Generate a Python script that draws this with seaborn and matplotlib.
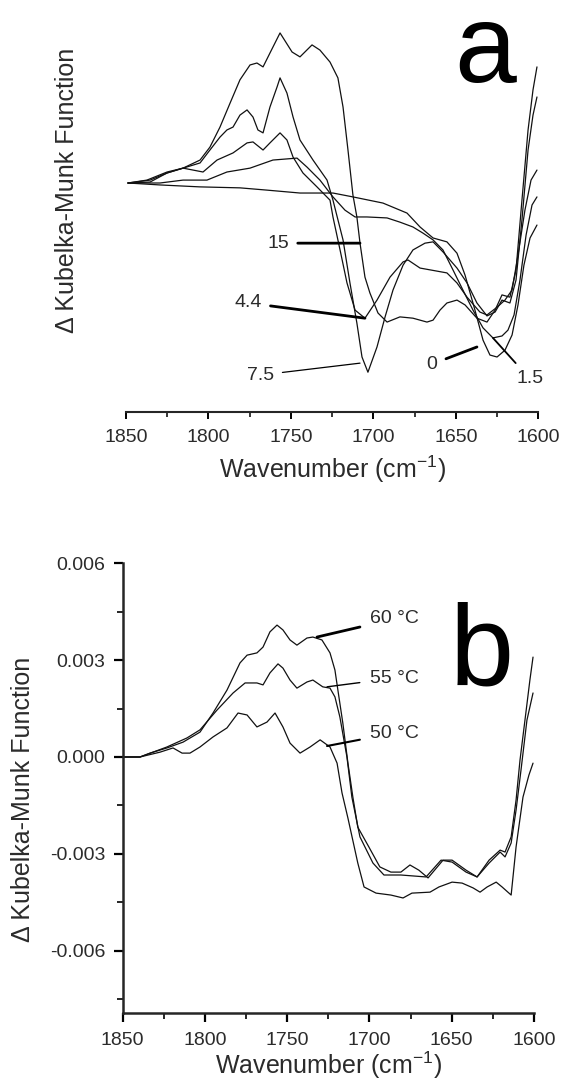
import numpy as np
import pandas as pd
import matplotlib
matplotlib.use("Agg")
import matplotlib.pyplot as plt
import seaborn as sns
from matplotlib.ticker import MultipleLocator, FixedLocator, FuncFormatter

# ---------------- data (panel a: arbitrary, same units x1e-3) ----------------
a_wn_15 = [1848.8, 1837.3, 1825.1, 1815.4, 1805.1, 1799.1, 1793.0, 1786.9, 1780.9, 1774.8,
           1770.6, 1766.9, 1762.7, 1756.6, 1749.3, 1744.5, 1737.2, 1732.4, 1726.3, 1721.5,
           1718.4, 1715.4, 1712.4, 1710.0, 1708.1, 1705.1, 1702.1, 1697.2, 1691.7, 1683.9,
           1676.0, 1667.5, 1663.8, 1659.6, 1655.4, 1649.3, 1644.4, 1637.2, 1631.1, 1626.2,
           1622.0, 1617.2, 1613.5, 1609.9, 1606.2, 1603.2, 1600.8]
a_km_15 = [0.00, 0.09, 0.34, 0.46, 0.71, 1.11, 1.73, 2.47, 3.19, 3.65,
           3.71, 3.59, 4.02, 4.64, 4.05, 3.90, 4.27, 4.11, 3.74, 3.25,
           2.35, 1.02, -0.37, -1.05, -1.86, -2.91, -3.40, -4.02, -4.30, -4.14,
           -4.18, -4.30, -4.24, -3.93, -3.71, -3.62, -3.77, -4.18, -4.30, -3.93,
           -3.46, -3.53, -2.69, -0.53, 1.64, 2.88, 3.59]

a_wn_7_5 = [1848.8, 1835.4, 1825.1, 1815.4, 1805.1, 1799.1, 1793.0, 1788.8, 1785.1, 1780.9,
            1776.6, 1773.0, 1770.0, 1766.9, 1762.7, 1758.4, 1756.6, 1752.4, 1748.7, 1744.5,
            1736.6, 1728.1, 1724.5, 1718.4, 1714.2, 1710.0, 1706.9, 1703.3, 1697.8, 1692.9,
            1688.1, 1682.0, 1676.0, 1668.7, 1663.8, 1657.8, 1649.3, 1643.2, 1637.2, 1631.1,
            1626.2, 1622.0, 1617.2, 1613.5, 1609.9, 1606.2, 1603.2, 1600.8]
a_km_7_5 = [0.00, 0.09, 0.31, 0.46, 0.62, 1.02, 1.42, 1.64, 1.73, 2.10,
            2.26, 2.04, 1.64, 1.55, 2.35, 2.97, 3.25, 2.78, 2.04, 1.33,
            0.71, 0.09, -0.53, -1.76, -3.09, -4.33, -5.38, -5.85, -5.07, -4.14,
            -3.31, -2.54, -2.07, -1.86, -1.82, -2.13, -2.63, -3.09, -3.71, -4.11,
            -3.99, -3.62, -3.71, -3.00, -1.14, 1.02, 2.10, 2.66]

a_wn_4_4 = [1848.8, 1835.4, 1825.1, 1815.4, 1803.3, 1794.8, 1785.1, 1776.6, 1773.0, 1766.9,
            1762.7, 1756.6, 1752.4, 1748.7, 1742.7, 1734.2, 1726.3, 1724.5, 1720.2, 1716.0,
            1711.1, 1705.1, 1697.8, 1689.9, 1682.0, 1679.0, 1671.7, 1655.4, 1649.3, 1643.2,
            1635.4, 1631.1, 1625.0, 1620.2, 1615.9, 1612.3, 1608.1, 1604.4, 1600.8]
a_km_4_4 = [0.00, 0.03, 0.31, 0.46, 0.34, 0.71, 0.93, 1.24, 1.27, 1.02,
            1.24, 1.55, 1.33, 0.80, 0.31, -0.12, -0.53, -1.05, -2.07, -3.09,
            -3.93, -4.18, -3.62, -2.91, -2.44, -2.38, -2.63, -2.78, -3.09, -3.53,
            -3.99, -4.08, -3.84, -3.62, -3.31, -2.23, -0.84, 0.09, 0.40]

a_wn_1_5 = [1848.8, 1829.4, 1815.4, 1800.9, 1788.8, 1774.8, 1760.9, 1746.3, 1740.2, 1732.4,
            1724.5, 1717.2, 1711.1, 1703.9, 1691.7, 1683.9, 1676.0, 1669.9, 1663.8, 1657.8,
            1651.7, 1645.7, 1639.6, 1633.5, 1627.5, 1622.0, 1618.4, 1614.7, 1611.1, 1607.4,
            1603.8, 1600.8]
a_km_1_5 = [0.00, 0.00, 0.09, 0.09, 0.34, 0.46, 0.71, 0.77, 0.49, 0.09,
            -0.43, -0.84, -1.05, -1.05, -1.08, -1.21, -1.36, -1.55, -1.76, -2.07,
            -2.69, -3.31, -3.93, -4.48, -4.79, -4.73, -4.55, -4.08, -3.00, -1.61,
            -0.68, -0.43]

a_wn_0 = [1848.8, 1829.4, 1805.1, 1780.9, 1764.5, 1744.5, 1724.5, 1712.4, 1694.2, 1679.6,
          1671.7, 1663.8, 1655.4, 1649.3, 1644.4, 1638.4, 1633.5, 1629.3, 1625.0, 1620.2,
          1615.9, 1612.3, 1608.7, 1605.0, 1600.8]
a_km_0 = [0.00, -0.06, -0.12, -0.15, -0.22, -0.31, -0.31, -0.43, -0.62, -0.93,
          -1.36, -1.70, -1.82, -2.17, -2.85, -3.93, -4.86, -5.32, -5.38, -5.17,
          -4.70, -3.77, -2.54, -1.70, -1.30]

a_labels = ["15", "4.4", "7.5", "0", "1.5"]

# ---------------- data (panel b, x1e-3) ----------------
b_wn_60 = [1849.8, 1839.5, 1833.4, 1823.1, 1813.3, 1803.0, 1795.1, 1786.6, 1778.7, 1774.4,
           1768.4, 1764.7, 1760.5, 1756.2, 1752.6, 1748.3, 1744.1, 1738.0, 1734.4, 1728.9,
           1724.0, 1721.0, 1719.2, 1716.2, 1713.1, 1710.1, 1707.1, 1700.4, 1693.7, 1687.0,
           1680.9, 1675.4, 1670.0, 1664.4, 1655.3, 1649.8, 1641.3, 1634.6, 1627.3, 1620.6,
           1617.6, 1613.9, 1610.9, 1608.5, 1605.5, 1602.5, 1600.6]
b_km_60 = [0.00, 0.00, 0.12, 0.28, 0.46, 0.77, 1.36, 2.07, 2.91, 3.15,
           3.22, 3.40, 3.87, 4.08, 3.93, 3.62, 3.46, 3.68, 3.71, 3.62,
           3.22, 2.69, 2.07, 1.05, -0.19, -1.24, -2.17, -2.78, -3.40, -3.56,
           -3.56, -3.34, -3.50, -3.74, -3.19, -3.19, -3.50, -3.71, -3.19, -2.88,
           -2.94, -2.47, -1.33, -0.09, 1.14, 2.38, 3.09]

b_wn_55 = [1849.8, 1839.5, 1823.1, 1810.9, 1803.0, 1792.7, 1782.9, 1775.6, 1768.4, 1764.7,
           1760.5, 1755.6, 1752.6, 1748.3, 1744.1, 1738.0, 1734.4, 1728.4, 1724.0, 1721.0,
           1718.0, 1713.7, 1710.7, 1705.8, 1697.9, 1691.2, 1680.9, 1665.6, 1656.5, 1649.8,
           1641.3, 1634.6, 1627.3, 1620.6, 1617.6, 1613.9, 1610.9, 1607.9, 1604.3, 1600.6]
b_km_55 = [0.00, 0.00, 0.31, 0.59, 0.84, 1.45, 1.98, 2.29, 2.29, 2.23,
           2.60, 2.88, 2.75, 2.38, 2.13, 2.32, 2.38, 2.17, 2.13, 1.86,
           1.24, 0.00, -1.24, -2.47, -3.28, -3.65, -3.65, -3.71, -3.19, -3.25,
           -3.56, -3.71, -3.28, -2.94, -3.09, -2.66, -1.64, -0.40, 1.14, 1.98]

b_wn_50 = [1849.8, 1839.5, 1827.3, 1819.4, 1813.9, 1809.1, 1803.0, 1795.1, 1786.6, 1779.9,
           1774.4, 1768.4, 1762.3, 1757.4, 1752.6, 1748.3, 1742.2, 1736.1, 1730.0, 1724.0,
           1719.7, 1716.7, 1713.1, 1707.1, 1703.3, 1696.0, 1687.0, 1679.6, 1674.2, 1663.2,
           1657.8, 1649.8, 1643.7, 1637.0, 1632.8, 1628.5, 1623.0, 1619.4, 1613.9, 1610.9,
           1606.7, 1603.1, 1600.6]
b_km_50 = [0.00, 0.00, 0.15, 0.28, 0.12, 0.12, 0.31, 0.62, 0.90, 1.36,
           1.30, 0.93, 1.08, 1.36, 0.93, 0.43, 0.12, 0.31, 0.53, 0.31,
           -0.19, -1.11, -1.89, -3.28, -4.02, -4.21, -4.27, -4.36, -4.21, -4.18,
           -4.02, -3.87, -3.90, -4.05, -4.18, -4.02, -3.87, -4.02, -4.27, -2.78,
           -1.24, -0.56, -0.19]

b_labels = ["60 °C", "55 °C", "50 °C"]
b_yticks = [-0.006, -0.003, 0.0, 0.003, 0.006]
b_yminor = [-0.0075, -0.0045, -0.0015, 0.0015, 0.0045]
x_ticks = [1850, 1800, 1750, 1700, 1650, 1600]

# ---------------- style ----------------
sns.set_style("ticks")
plt.rcParams["font.family"] = ["Liberation Sans", "DejaVu Sans"]
plt.rcParams["mathtext.fontset"] = "custom"
plt.rcParams["mathtext.rm"] = "Liberation Sans"
plt.rcParams["mathtext.it"] = "Liberation Sans:italic"
plt.rcParams["axes.unicode_minus"] = False
TXT = "#2b2b2b"
LINE = "#111111"

fig = plt.figure(figsize=(5.62, 10.85), dpi=100)
ax_a = fig.add_axes([0.2242, 0.6200, 0.7336, 0.3708])
ax_b = fig.add_axes([0.2183, 0.0660, 0.7319, 0.4151])

# ---------------- panel a ----------------
for wn, km in [(a_wn_15, a_km_15), (a_wn_7_5, a_km_7_5), (a_wn_4_4, a_km_4_4),
               (a_wn_1_5, a_km_1_5), (a_wn_0, a_km_0)]:
    sns.lineplot(x=np.array(wn), y=np.array(km) * 1e-3, ax=ax_a, color=LINE,
                 linewidth=0.9, estimator=None, sort=False)

ax_a.set_xlim(1850, 1600)
ax_a.set_ylim(-7.09e-3, 5.35e-3)
for s in ["left", "top", "right"]:
    ax_a.spines[s].set_visible(False)
ax_a.spines["bottom"].set_linewidth(1.5)
ax_a.set_yticks([])
ax_a.xaxis.set_major_locator(FixedLocator(x_ticks))
ax_a.xaxis.set_minor_locator(MultipleLocator(25))
ax_a.tick_params(axis="x", which="major", direction="out", length=4.8, width=1.4,
                 labelsize=14, labelcolor=TXT, pad=7, color="k")
ax_a.tick_params(axis="x", which="minor", direction="out", length=3.3, width=1.1, color="k")
ax_a.set_xlabel(r"Wavenumber (cm$^{-1}$)", fontsize=18, color=TXT, labelpad=6)
ax_a.set_ylabel("Δ Kubelka-Munk Function", fontsize=18, color=TXT)
ax_a.yaxis.set_label_coords(-0.115, 0.5526)

ann_a = [
    # label, text pos (wn, km), target (wn, km), lw
    (a_labels[0], (1757.8, -1.86), (1708.1, -1.86), 2.0),
    (a_labels[1], (1776.0, -3.71), (1705.1, -4.18), 2.0),
    (a_labels[2], (1768.7, -5.94), (1708.1, -5.57), 0.9),
    (a_labels[3], (1664.4, -5.60), (1637.2, -5.07), 2.0),
    (a_labels[4], (1605.0, -6.06), (1627.5, -4.79), 1.3),
]
for lab, (tx, ty), (px, py), lw in ann_a:
    ax_a.annotate(lab, xy=(px, py * 1e-3), xytext=(tx, ty * 1e-3), fontsize=14,
                  color=TXT, ha="center", va="center",
                  arrowprops=dict(arrowstyle="-", lw=lw, color="k", shrinkA=4, shrinkB=0))

fig.text(454 / 562, 1 - 82 / 1085, "a", fontsize=80, ha="left", va="baseline", color="k")

# ---------------- panel b ----------------
for wn, km in [(b_wn_60, b_km_60), (b_wn_55, b_km_55), (b_wn_50, b_km_50)]:
    sns.lineplot(x=np.array(wn), y=np.array(km) * 1e-3, ax=ax_b, color=LINE,
                 linewidth=0.9, estimator=None, sort=False)

ax_b.set_xlim(1850, 1600)
ax_b.set_ylim(-0.00793, 0.006)
for s in ["top", "right"]:
    ax_b.spines[s].set_visible(False)
for s in ["left", "bottom"]:
    ax_b.spines[s].set_linewidth(1.8)
ax_b.xaxis.set_major_locator(FixedLocator(x_ticks))
ax_b.xaxis.set_minor_locator(MultipleLocator(25))
ax_b.yaxis.set_major_locator(FixedLocator(b_yticks))
ax_b.yaxis.set_minor_locator(FixedLocator(b_yminor))
ax_b.yaxis.set_major_formatter(FuncFormatter(lambda v, p: f"{(v if abs(v) > 1e-12 else 0.0):.3f}"))
ax_b.tick_params(which="major", direction="out", length=6.5, width=1.6,
                 labelsize=14, labelcolor=TXT, pad=6, color="k")
ax_b.tick_params(axis="x", which="major", pad=7)
ax_b.tick_params(which="minor", direction="out", length=4.3, width=1.2, color="k")
ax_b.set_xlabel(r"Wavenumber (cm$^{-1}$)", fontsize=18, color=TXT, labelpad=0)
ax_b.set_ylabel("Δ Kubelka-Munk Function", fontsize=18, color=TXT)
ax_b.yaxis.set_label_coords(-0.212, 0.476)

ann_b = [
    (b_labels[0], (1699.7, 4.27), (1731.9, 3.71), 2.0),
    (b_labels[1], (1699.7, 2.44), (1725.8, 2.17), 1.0),
    (b_labels[2], (1699.7, 0.74), (1725.8, 0.34), 1.5),
]
for lab, (tx, ty), (px, py), lw in ann_b:
    ax_b.annotate(lab, xy=(px, py * 1e-3), xytext=(tx, ty * 1e-3), fontsize=14,
                  color=TXT, ha="left", va="center",
                  arrowprops=dict(arrowstyle="-", lw=lw, color="k", shrinkA=5, shrinkB=0))

fig.text(450 / 562, 1 - 685 / 1085, "b", fontsize=83, ha="left", va="baseline", color="k")

fig.savefig("out.png", dpi=100)
